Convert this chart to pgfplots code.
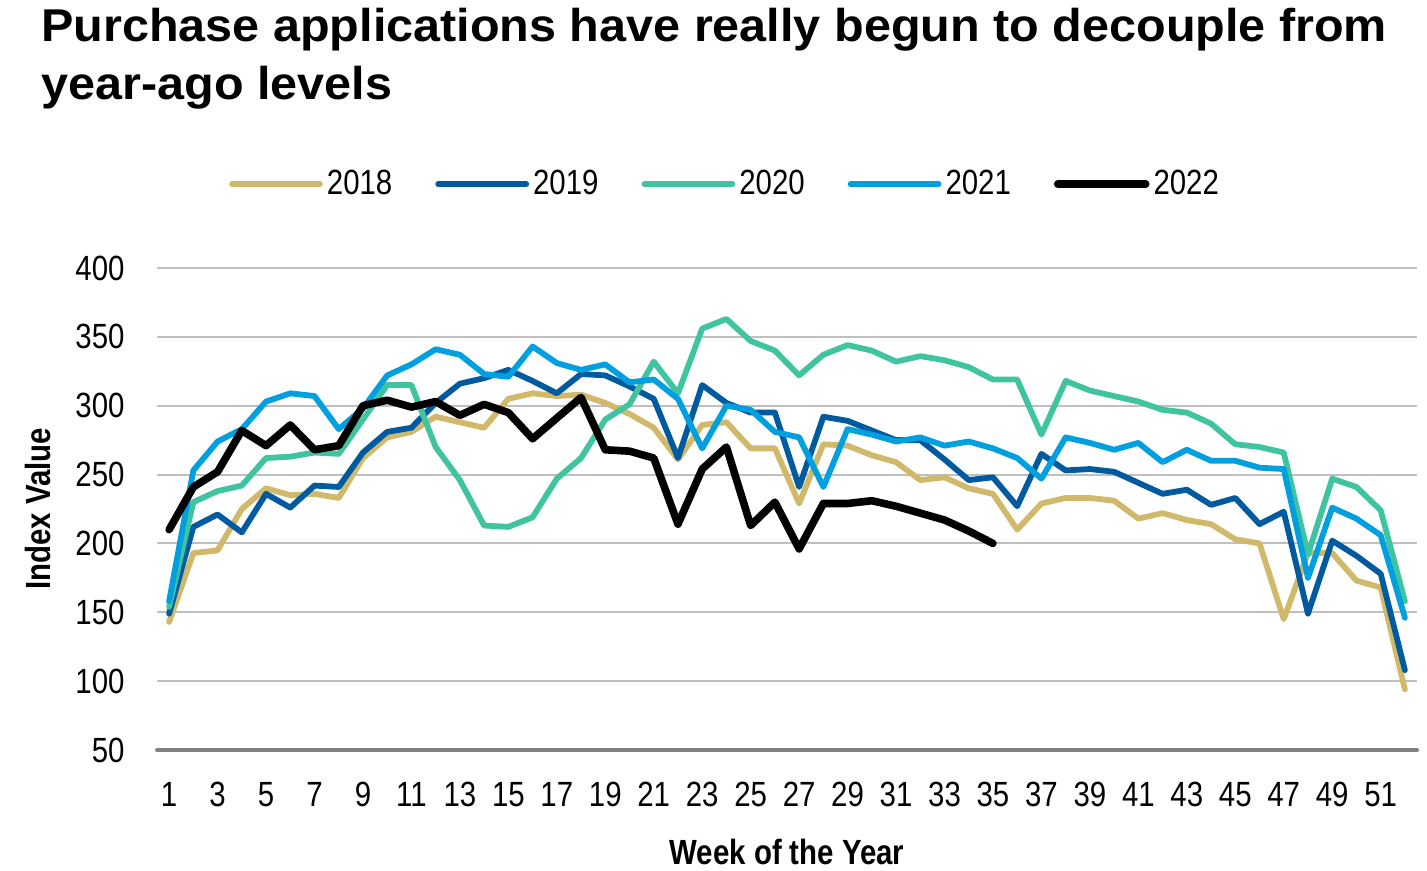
\documentclass[border=0pt]{standalone}
\usepackage{fontspec}
\setmainfont{Liberation Sans}
\newfontfamily\condfont[FakeStretch=0.84]{Liberation Sans}
\newfontfamily\titlefont[FakeStretch=1.055]{Liberation Sans}
\usepackage{pgfplots}
\pgfplotsset{compat=1.18}
\definecolor{c18}{RGB}{209,185,107}
\definecolor{c19}{RGB}{0,90,160}
\definecolor{c20}{RGB}{64,196,160}
\definecolor{c21}{RGB}{0,160,224}
\definecolor{cgrid}{RGB}{191,191,191}
\definecolor{caxis}{RGB}{128,128,128}

\pgfplotstableread{
w y18 y19 y20 y21
1 143 149 154 158
2 193 212 230 253
3 195 221 238 274
4 225 208 242 283
5 240 236 262 303
6 235 226 263 309
7 236 242 266 307
8 233 241 265 283
9 262 266 290 298
10 277 281 315 322
11 281 284 315 330
12 292 302 270 341
13 288 316 246 337
14 284 320 213 323
15 305 326 212 321
16 309 318 219 343
17 307 309 247 331
18 308 323 262 326
19 302 322 290 330
20 294 314 301 317
21 284 305 332 319
22 261 262 309 305
23 286 315 356 269
24 288 302 363 300
25 269 295 347 297
26 269 295 340 281
27 229 241 322 277
28 272 292 337 241
29 271 289 344 283
30 264 282 340 279
31 259 275 332 274
32 246 275 336 277
33 248 261 333 271
34 240 246 328 274
35 236 248 319 269
36 210 227 319 262
37 229 265 279 247
38 233 253 318 277
39 233 254 311 273
40 231 252 307 268
41 218 244 303 273
42 222 236 297 259
43 217 239 295 268
44 214 228 287 260
45 203 233 272 260
46 200 214 270 255
47 145 223 266 254
48 193 149 192 175
49 193 202 247 226
50 173 191 241 218
51 168 178 224 206
52 94 108 158 146
}\dataA

\pgfplotstableread{
w y22
1 210
2 241
3 252
4 282
5 271
6 286
7 268
8 271
9 300
10 304
11 299
12 303
13 293
14 301
15 295
16 276
17 291
18 306
19 268
20 267
21 262
22 214
23 254
24 270
25 213
26 230
27 196
28 229
29 229
30 231
31 227
32 222
33 217
34 209
35 200
}\dataB

\begin{document}
\begin{tikzpicture}
\useasboundingbox (0,0) rectangle (713.5pt,435.5pt);
\node[anchor=base west, inner sep=0pt, font=\titlefont\bfseries\fontsize{23}{27}\selectfont] at (20.5pt,414.5pt) {Purchase applications have really begun to decouple from};
\node[anchor=base west, inner sep=0pt, font=\titlefont\bfseries\fontsize{23}{27}\selectfont] at (20.5pt,385.5pt) {year-ago levels};
\begin{axis}[
  at={(78.5pt,60.5pt)}, anchor=south west,
  scale only axis, width=630pt, height=241pt,
  xmin=0.5, xmax=52.5, ymin=50, ymax=400,
  xtick={1,3,...,51}, ytick={50,100,...,400},
  axis x line*=bottom, axis y line*=left,
  x axis line style={draw=caxis, line width=2pt, line cap=round, -},
  y axis line style={draw=none},
  major tick length=0pt,
  ymajorgrids, grid style={draw=cgrid, line width=1pt},
  /pgf/number format/assume math mode=true,
  tick label style={font=\condfont\fontsize{17.5}{20}\selectfont},
  yticklabel style={xshift=-12.7pt},
  xticklabel style={yshift=-12.7pt},
  xlabel={Week of the Year}, ylabel={Index Value},
  xlabel style={at={(axis description cs:0.5,0)}, anchor=base, yshift=-57pt, inner sep=0pt, font=\condfont\bfseries\fontsize{17.5}{20}\selectfont},
  ylabel style={at={(axis description cs:-0.0944,0.5)}, anchor=center, inner sep=0pt, font=\condfont\bfseries\fontsize{17.5}{20}\selectfont},
  legend columns=5,
  legend style={at={(axis description cs:0.4516,1.174)}, anchor=center, draw=none, fill=none,
    font=\condfont\fontsize{17.5}{20}\selectfont,
    /tikz/every even column/.append style={column sep=19.5pt}},
  legend image code/.code={\draw[#1] (0pt,0pt) -- (44pt,0pt);},
  every axis plot/.append style={line join=round, line cap=round},
]
\addplot[c18, line width=2.9pt] table[x=w, y=y18] {\dataA};
\addlegendentry{2018}
\addplot[c19, line width=2.9pt] table[x=w, y=y19] {\dataA};
\addlegendentry{2019}
\addplot[c20, line width=2.9pt] table[x=w, y=y20] {\dataA};
\addlegendentry{2020}
\addplot[c21, line width=2.9pt] table[x=w, y=y21] {\dataA};
\addlegendentry{2021}
\addplot[black, line width=3.8pt] table[x=w, y=y22] {\dataB};
\addlegendentry{2022}
\end{axis}
\end{tikzpicture}
\end{document}
